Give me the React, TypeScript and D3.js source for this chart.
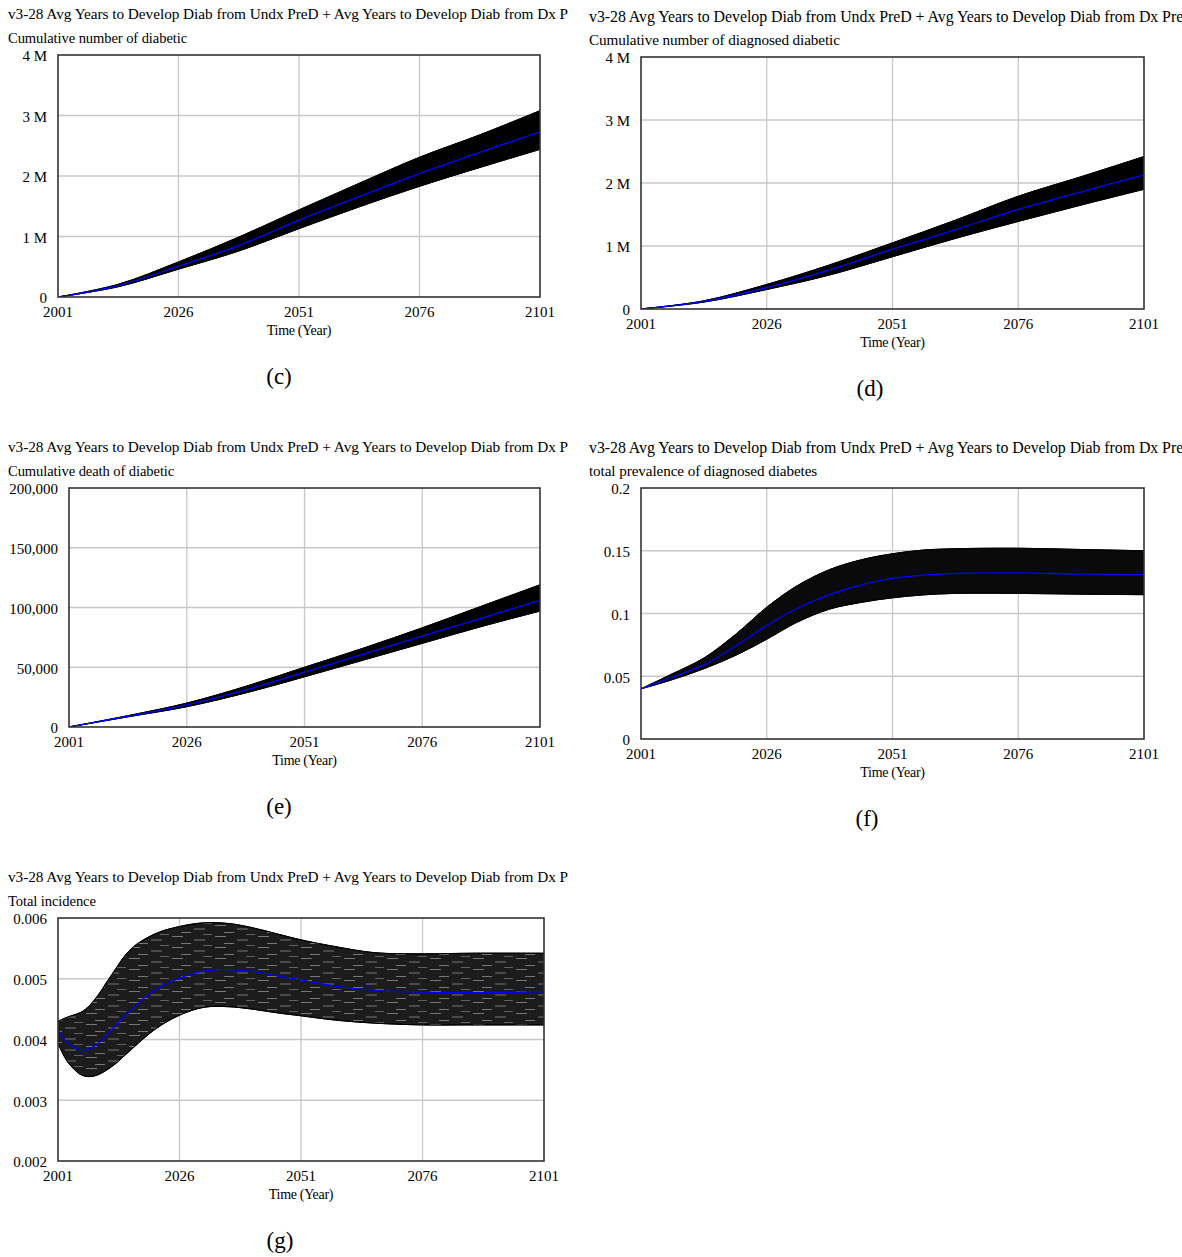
import React from "react";
import * as d3 from "d3";

// ---------- DATA ----------
const X_TICKS = [2001, 2026, 2051, 2076, 2101];
const TITLE = "v3-28 Avg Years to Develop Diab from Undx PreD + Avg Years to Develop Diab from Dx PreD";

// (c) Cumulative number of diabetic (millions)
const C_YEARS = [2001, 2013.5, 2026, 2038.5, 2051, 2063.5, 2076, 2088.5, 2101];
const C_BASE = [0, 0.19, 0.51, 0.85, 1.27, 1.66, 2.04, 2.39, 2.73];
const C_UPPER = [0, 0.21, 0.58, 0.99, 1.44, 1.88, 2.31, 2.68, 3.08];
const C_LOWER = [0, 0.17, 0.46, 0.76, 1.13, 1.49, 1.83, 2.14, 2.44];
const C_TICKS = [0, 1, 2, 3, 4];
const C_TICK_LABELS = ["0", "1 M", "2 M", "3 M", "4 M"];

// (d) Cumulative number of diagnosed diabetic (millions)
const D_YEARS = [2001, 2013.5, 2026, 2038.5, 2051, 2063.5, 2076, 2088.5, 2101];
const D_BASE = [0, 0.12, 0.34, 0.62, 0.95, 1.26, 1.58, 1.86, 2.13];
const D_UPPER = [0, 0.13, 0.39, 0.7, 1.05, 1.41, 1.79, 2.1, 2.42];
const D_LOWER = [0, 0.11, 0.31, 0.54, 0.83, 1.12, 1.39, 1.65, 1.9];
const D_TICKS = [0, 1, 2, 3, 4];
const D_TICK_LABELS = ["0", "1 M", "2 M", "3 M", "4 M"];

// (e) Cumulative death of diabetic
const E_YEARS = [2001, 2013.5, 2026, 2038.5, 2051, 2063.5, 2076, 2088.5, 2101];
const E_BASE = [0, 9000, 18500, 31000, 46000, 61000, 76000, 91000, 106000];
const E_UPPER = [0, 9500, 20000, 34000, 50000, 66000, 83000, 101000, 119000];
const E_LOWER = [0, 8500, 17000, 28500, 42000, 56000, 70000, 84000, 97000];
const E_TICKS = [0, 50000, 100000, 150000, 200000];
const E_TICK_LABELS = ["0", "50,000", "100,000", "150,000", "200,000"];

// (f) total prevalence of diagnosed diabetes
const F_YEARS = [2001, 2007, 2013.5, 2020, 2026, 2032, 2038.5, 2045, 2051, 2057, 2063.5, 2076, 2088.5, 2101];
const F_BASE = [0.04, 0.049, 0.059, 0.0745, 0.0904, 0.104, 0.115, 0.123, 0.128, 0.1305, 0.132, 0.1324, 0.1314, 0.131];
const F_UPPER = [0.04, 0.0515, 0.0645, 0.084, 0.105, 0.122, 0.135, 0.143, 0.1476, 0.1505, 0.1516, 0.152, 0.151, 0.15];
const F_LOWER = [0.04, 0.047, 0.056, 0.067, 0.0795, 0.093, 0.1035, 0.109, 0.1125, 0.1148, 0.116, 0.116, 0.1154, 0.115];
const F_TICKS = [0, 0.05, 0.1, 0.15, 0.2];
const F_TICK_LABELS = ["0", "0.05", "0.1", "0.15", "0.2"];

// (g) Total incidence
const G_YEARS = [2001, 2003, 2006, 2008.5, 2012, 2016, 2021, 2026, 2031, 2036, 2041, 2046, 2051, 2058, 2066, 2076, 2086, 2101];
const G_BASE = [0.00416, 0.00394, 0.00383, 0.00389, 0.00416, 0.00449, 0.00482, 0.00501, 0.00513, 0.00515, 0.00512, 0.00505, 0.00498, 0.00488, 0.00481, 0.00478, 0.00477, 0.00479];
const G_UPPER = [0.0043, 0.00437, 0.00446, 0.00465, 0.00506, 0.00549, 0.00574, 0.00586, 0.00592, 0.00591, 0.00584, 0.00574, 0.00564, 0.00553, 0.00543, 0.00541, 0.00542, 0.00542];
const G_LOWER = [0.00394, 0.00363, 0.00341, 0.0034, 0.00355, 0.00383, 0.00417, 0.0044, 0.00453, 0.00454, 0.0045, 0.00444, 0.00439, 0.00432, 0.00427, 0.00424, 0.00424, 0.00424];
const G_TICKS = [0.002, 0.003, 0.004, 0.005, 0.006];
const G_TICK_LABELS = ["0.002", "0.003", "0.004", "0.005", "0.006"];

// ---------- LAYOUT ----------
type PanelDef = {
  id: string;
  subtitle: string;
  caption: string;
  years: number[];
  base: number[];
  upper: number[];
  lower: number[];
  ticks: number[];
  tickLabels: string[];
  box: { x0: number; x1: number; y0: number; y1: number };
  textX: number;
  clipRight: number;
  captionX: number;
  bandFill: string;
  texture: boolean;
  titleSize: number;
  subSize: number;
};

const PANELS: PanelDef[] = [
  {
    id: "c", subtitle: "Cumulative number of diabetic", caption: "(c)",
    years: C_YEARS, base: C_BASE, upper: C_UPPER, lower: C_LOWER,
    ticks: C_TICKS, tickLabels: C_TICK_LABELS,
    box: { x0: 58, x1: 540, y0: 55, y1: 297 }, textX: 8, clipRight: 568, captionX: 279,
    bandFill: "#000", texture: false, titleSize: 15.3, subSize: 14.6,
  },
  {
    id: "d", subtitle: "Cumulative number of diagnosed diabetic", caption: "(d)",
    years: D_YEARS, base: D_BASE, upper: D_UPPER, lower: D_LOWER,
    ticks: D_TICKS, tickLabels: D_TICK_LABELS,
    box: { x0: 641, x1: 1144, y0: 57, y1: 309 }, textX: 589, clipRight: 1182, captionX: 870,
    bandFill: "#000", texture: false, titleSize: 15.9, subSize: 15.2,
  },
  {
    id: "e", subtitle: "Cumulative death of diabetic", caption: "(e)",
    years: E_YEARS, base: E_BASE, upper: E_UPPER, lower: E_LOWER,
    ticks: E_TICKS, tickLabels: E_TICK_LABELS,
    box: { x0: 69, x1: 540, y0: 488, y1: 727 }, textX: 8, clipRight: 568, captionX: 279,
    bandFill: "#000", texture: false, titleSize: 15.3, subSize: 14.6,
  },
  {
    id: "f", subtitle: "total prevalence of diagnosed diabetes", caption: "(f)",
    years: F_YEARS, base: F_BASE, upper: F_UPPER, lower: F_LOWER,
    ticks: F_TICKS, tickLabels: F_TICK_LABELS,
    box: { x0: 641, x1: 1144, y0: 488, y1: 739 }, textX: 589, clipRight: 1182, captionX: 867,
    bandFill: "#0a0a0a", texture: false, titleSize: 15.9, subSize: 15.2,
  },
  {
    id: "g", subtitle: "Total incidence", caption: "(g)",
    years: G_YEARS, base: G_BASE, upper: G_UPPER, lower: G_LOWER,
    ticks: G_TICKS, tickLabels: G_TICK_LABELS,
    box: { x0: 58, x1: 544, y0: 918, y1: 1161 }, textX: 8, clipRight: 568, captionX: 280,
    bandFill: "#1c1c1c", texture: true, titleSize: 15.3, subSize: 14.6,
  },
];

const FONT = "'Liberation Serif', 'Times New Roman', Times, serif";

function Panel({ p }: { p: PanelDef }) {
  const { x0, x1, y0, y1 } = p.box;
  const x = d3.scaleLinear().domain([2001, 2101]).range([x0, x1]);
  const y = d3.scaleLinear().domain([p.ticks[0], p.ticks[p.ticks.length - 1]]).range([y1, y0]);
  const idx = p.years.map((_, i) => i);
  const curve = d3.curveCatmullRom.alpha(0.5);
  const area = d3
    .area<number>()
    .x((i) => x(p.years[i]))
    .y0((i) => y(p.lower[i]))
    .y1((i) => y(p.upper[i]))
    .curve(curve);
  const line = (vals: number[]) =>
    d3
      .line<number>()
      .x((i) => x(p.years[i]))
      .y((i) => y(vals[i]))
      .curve(curve)(idx) || "";
  const clipId = `clip-${p.id}`;
  const bandClip = `bclip-${p.id}`;
  const titleClip = `tclip-${p.id}`;
  const patId = `pat-${p.id}`;
  const areaD = area(idx) || "";
  return (
    <g>
      <defs>
        <clipPath id={clipId}>
          <rect x={x0} y={y0} width={x1 - x0} height={y1 - y0} />
        </clipPath>
        <clipPath id={bandClip}>
          <path d={areaD} />
        </clipPath>
        <clipPath id={titleClip}>
          <rect x={p.textX - 2} y={y0 - 60} width={p.clipRight - p.textX + 2} height={30} />
        </clipPath>
        <pattern id={patId} width={43} height={11} patternUnits="userSpaceOnUse">
          <line x1={0} x2={11} y1={1.5} y2={1.5} stroke="#ffffff" strokeOpacity={0.4} strokeWidth={1} />
          <line x1={22} x2={33} y1={5} y2={5} stroke="#ffffff" strokeOpacity={0.4} strokeWidth={1} />
          <line x1={9} x2={19} y1={8.5} y2={8.5} stroke="#ffffff" strokeOpacity={0.4} strokeWidth={1} />
          <line x1={31} x2={40} y1={10.5} y2={10.5} stroke="#ffffff" strokeOpacity={0.3} strokeWidth={1} />
        </pattern>
      </defs>
      <text x={p.textX} y={y0 - 41} dy="0.35em" fontSize={p.titleSize} fontFamily={FONT} letterSpacing={-0.05} clipPath={`url(#${titleClip})`}>
        {TITLE}
      </text>
      <text x={p.textX} y={y0 - 17} dy="0.35em" fontSize={p.subSize} fontFamily={FONT} letterSpacing={-0.1}>
        {p.subtitle}
      </text>
      {/* grid */}
      {X_TICKS.slice(1, -1).map((t) => (
        <line key={"gx" + t} x1={x(t)} x2={x(t)} y1={y0} y2={y1} stroke="#c8c8c8" strokeWidth={1.3} />
      ))}
      {p.ticks.slice(1, -1).map((t) => (
        <line key={"gy" + t} x1={x0} x2={x1} y1={y(t)} y2={y(t)} stroke="#c8c8c8" strokeWidth={1.3} />
      ))}
      {/* band */}
      <g clipPath={`url(#${clipId})`}>
        <path d={areaD} fill={p.bandFill} stroke="#000" strokeWidth={1} />
        {p.texture && (
          <rect x={x0} y={y0} width={x1 - x0} height={y1 - y0} fill={`url(#${patId})`} clipPath={`url(#${bandClip})`} />
        )}
        <path d={line(p.upper)} fill="none" stroke="#000" strokeWidth={1} />
        <path d={line(p.lower)} fill="none" stroke="#000" strokeWidth={1} />
        <path d={line(p.base)} fill="none" stroke="#0000ff" strokeWidth={1.3} />
      </g>
      {/* frame */}
      <rect x={x0} y={y0} width={x1 - x0} height={y1 - y0} fill="none" stroke="#333" strokeWidth={1.6} />
      {/* y ticks */}
      {p.ticks.map((t, i) => (
        <text key={"yl" + t} x={x0 - 11} y={y(t) + 1} dy="0.35em" textAnchor="end" fontSize={15} fontFamily={FONT}>
          {p.tickLabels[i]}
        </text>
      ))}
      {/* x ticks */}
      {X_TICKS.map((t) => (
        <text key={"xl" + t} x={x(t)} y={y1 + 14.5} dy="0.35em" textAnchor="middle" fontSize={15} fontFamily={FONT}>
          {t}
        </text>
      ))}
      <text x={(x0 + x1) / 2} y={y1 + 33} dy="0.35em" textAnchor="middle" fontSize={14} fontFamily={FONT} letterSpacing={-0.3}>
        Time (Year)
      </text>
      <text x={p.captionX} y={y1 + 79} dy="0.35em" textAnchor="middle" fontSize={23} fontFamily={FONT}>
        {p.caption}
      </text>
    </g>
  );
}

export default function App() {
  return (
    <svg
      width={1182}
      height={1257}
      viewBox="0 0 1182 1257"
      style={{ position: "absolute", left: 0, top: 0, background: "#fff" }}
    >
      <rect x={0} y={0} width={1182} height={1257} fill="#fff" />
      {PANELS.map((p) => (
        <Panel key={p.id} p={p} />
      ))}
    </svg>
  );
}
